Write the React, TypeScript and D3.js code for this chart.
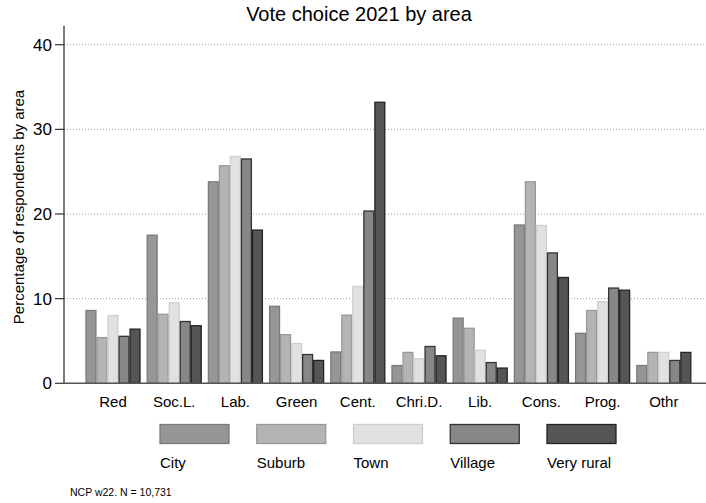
import React from "react";
import * as d3 from "d3";

const categories = ["Red", "Soc.L.", "Lab.", "Green", "Cent.", "Chri.D.", "Lib.", "Cons.", "Prog.", "Othr"];
const seriesNames = ["City", "Suburb", "Town", "Village", "Very rural"];
const city = [8.6, 17.5, 23.8, 9.1, 3.7, 2.1, 7.7, 18.7, 5.9, 2.1];
const suburb = [5.4, 8.15, 25.7, 5.75, 8.05, 3.65, 6.5, 23.8, 8.6, 3.65];
const town = [8.0, 9.5, 26.8, 4.7, 11.45, 2.9, 3.9, 18.65, 9.65, 3.65];
const village = [5.55, 7.3, 26.5, 3.4, 20.35, 4.35, 2.45, 15.4, 11.25, 2.7];
const veryRural = [6.4, 6.8, 18.1, 2.7, 33.2, 3.25, 1.8, 12.5, 11.0, 3.65];
const seriesValues = [city, suburb, town, village, veryRural];
const yTicks = [0, 10, 20, 30, 40];
const fills = ["#969696", "#b4b4b4", "#e1e1e1", "#878787", "#555555"];
const strokes = ["#7a7a7a", "#999999", "#cfcfcf", "#333333", "#222222"];

const W = 706;
const H = 503;
const FONT = "'Liberation Sans', Arial, sans-serif";

export default function App() {
  const y = d3.scaleLinear().domain([0, 40]).range([383.3, 44.7]);
  const x = d3.scaleBand<string>().domain(categories).range([82.4, 694.4]).padding(0);
  const groupW = 54;
  const xs = d3.scaleBand<string>().domain(seriesNames).range([0, groupW]).paddingInner(0.1);
  const plotLeft = 64;
  const plotRight = 706;
  const legendX = d3.scalePoint<string>().domain(seriesNames).range([160, 547]);

  return (
    <svg width={W} height={H} style={{ position: "absolute", left: 0, top: 0, background: "#fff" }} fontFamily={FONT}>
      <rect x={0} y={0} width={W} height={H} fill="#fff" />
      <text x={359} y={21} textAnchor="middle" fontSize={20} fill="#000">Vote choice 2021 by area</text>
      {yTicks.map((t) => (
        <g key={t}>
          {t > 0 && (
            <line x1={plotLeft} x2={plotRight} y1={y(t)} y2={y(t)} stroke="#9a9a9a" strokeWidth={1} strokeDasharray="1,2" />
          )}
          <line x1={55} x2={plotLeft} y1={y(t)} y2={y(t)} stroke="#333" strokeWidth={1.2} />
          <text x={52} y={y(t)} dy="0.36em" textAnchor="end" fontSize={17} fill="#000">{t}</text>
        </g>
      ))}
      {categories.map((c, i) => {
        const gx = (x(c) ?? 0) + x.bandwidth() / 2 - groupW / 2;
        return (
          <g key={c}>
            {seriesNames.map((s, j) => {
              const v = seriesValues[j][i];
              const bx = gx + (xs(s) ?? 0);
              return (
                <rect key={s} x={bx} y={y(v)} width={xs.bandwidth()} height={y(0) - y(v)}
                  fill={fills[j]} stroke={strokes[j]} strokeWidth={1.3} />
              );
            })}
            <text x={(x(c) ?? 0) + x.bandwidth() / 2} y={407} textAnchor="middle" fontSize={15} fill="#000">{c}</text>
          </g>
        );
      })}
      <line x1={plotLeft} x2={plotLeft} y1={26} y2={y(0)} stroke="#333" strokeWidth={1.3} />
      <line x1={plotLeft} x2={plotRight} y1={y(0)} y2={y(0)} stroke="#555" strokeWidth={1.5} />
      <text transform={`translate(24,${207}) rotate(-90)`} textAnchor="middle" fontSize={15} fill="#000">Percentage of respondents by area</text>
      {seriesNames.map((s, j) => {
        const lx = legendX(s) ?? 0;
        return (
          <g key={s}>
            <rect x={lx} y={424.5} width={69} height={19} fill={fills[j]} stroke={strokes[j]} strokeWidth={1.3} />
            <text x={lx} y={468} fontSize={15} fill="#000">{s}</text>
          </g>
        );
      })}
      <text x={70} y={496} fontSize={10.5} fill="#000">NCP w22. N = 10,731</text>
    </svg>
  );
}
